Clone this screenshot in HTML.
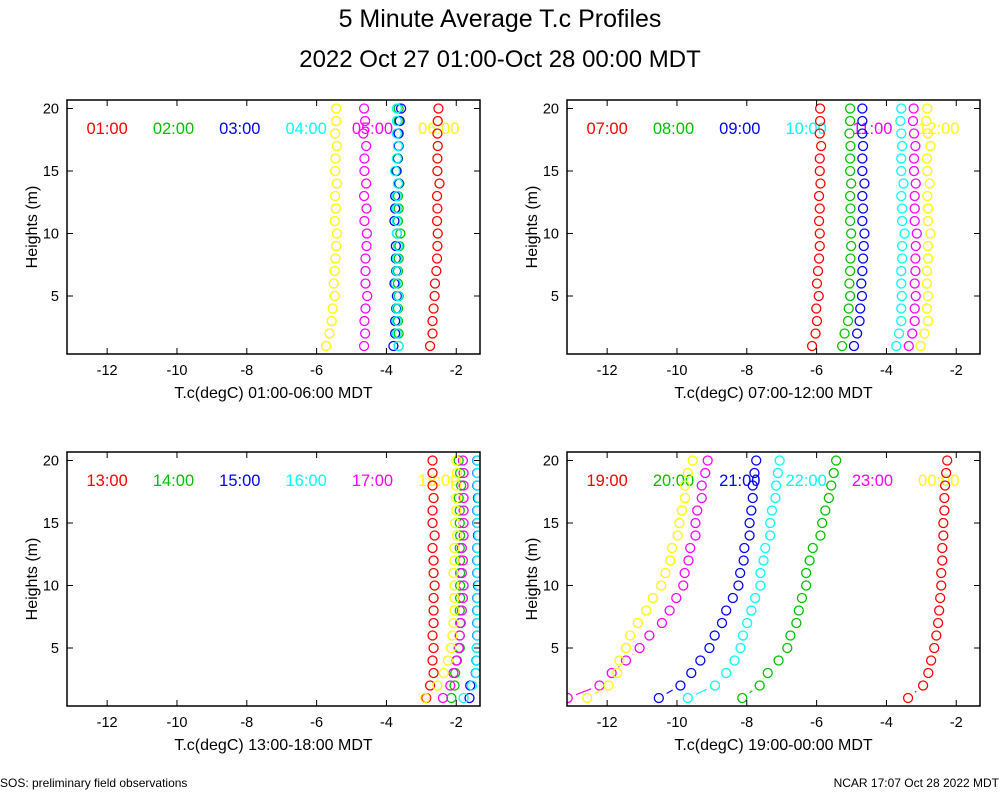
<!DOCTYPE html>
<html><head><meta charset="utf-8">
<style>
html,body{margin:0;padding:0;background:#fff;}
svg{display:block;font-family:"Liberation Sans",sans-serif;}
</style></head>
<body>
<svg id="chart" width="1000" height="800" viewBox="0 0 1000 800">
<text x="500" y="27" font-size="25" text-anchor="middle">5 Minute Average T.c Profiles</text>
<text x="500" y="67" font-size="24" text-anchor="middle">2022 Oct 27 01:00-Oct 28 00:00 MDT</text>
<text x="0" y="787" font-size="12">SOS: preliminary field observations</text>
<text x="999" y="787" font-size="12" text-anchor="end">NCAR 17:07 Oct 28 2022 MDT</text>
</svg>
<script>
const heights = [20,19,18,17,16,15,14,13,12,11,10,9,8,7,6,5,4,3,2,1];
const xTicks = [-12,-10,-8,-6,-4,-2];
const yTicks = [5,10,15,20];
const colors = ["#ff0000","#00c000","#0000ff","#00ffff","#ff00ff","#ffff00"];
const p1Labels = ["01:00","02:00","03:00","04:00","05:00","06:00"];
const p2Labels = ["07:00","08:00","09:00","10:00","11:00","12:00"];
const p3Labels = ["13:00","14:00","15:00","16:00","17:00","18:00"];
const p4Labels = ["19:00","20:00","21:00","22:00","23:00","00:00"];
const p1Red = [-2.51,-2.53,-2.54,-2.53,-2.54,-2.54,-2.48,-2.55,-2.54,-2.55,-2.53,-2.54,-2.55,-2.57,-2.61,-2.62,-2.65,-2.68,-2.68,-2.75];
const p1Green = [-3.65,-3.65,-3.67,-3.67,-3.67,-3.7,-3.63,-3.67,-3.65,-3.67,-3.6,-3.63,-3.65,-3.67,-3.67,-3.65,-3.67,-3.67,-3.65,-3.65];
const p1Blue = [-3.58,-3.62,-3.65,-3.65,-3.68,-3.72,-3.65,-3.75,-3.75,-3.77,-3.7,-3.73,-3.73,-3.72,-3.77,-3.7,-3.72,-3.75,-3.75,-3.8];
const p1Cyan = [-3.7,-3.7,-3.7,-3.67,-3.7,-3.75,-3.67,-3.7,-3.7,-3.7,-3.7,-3.67,-3.7,-3.7,-3.73,-3.67,-3.7,-3.7,-3.7,-3.65];
const p1Magenta = [-4.64,-4.61,-4.66,-4.58,-4.63,-4.63,-4.58,-4.64,-4.57,-4.63,-4.56,-4.57,-4.6,-4.6,-4.6,-4.55,-4.6,-4.63,-4.61,-4.64];
const p1Yellow = [-5.44,-5.44,-5.47,-5.42,-5.46,-5.47,-5.42,-5.47,-5.45,-5.48,-5.42,-5.44,-5.46,-5.48,-5.51,-5.48,-5.54,-5.57,-5.63,-5.73];
const p2Red = [-5.9,-5.9,-5.91,-5.87,-5.91,-5.91,-5.89,-5.93,-5.91,-5.93,-5.91,-5.91,-5.93,-5.96,-5.99,-5.94,-6.01,-5.99,-6.03,-6.13];
const p2Green = [-5.04,-5.04,-5.06,-5.03,-5.04,-5.04,-5.01,-5.04,-5.03,-5.04,-5.01,-5.01,-5.03,-5.04,-5.06,-5.04,-5.08,-5.1,-5.2,-5.27];
const p2Blue = [-4.69,-4.69,-4.69,-4.67,-4.69,-4.69,-4.63,-4.69,-4.67,-4.69,-4.63,-4.65,-4.67,-4.69,-4.72,-4.7,-4.75,-4.77,-4.84,-4.93];
const p2Cyan = [-3.575,-3.6,-3.575,-3.55,-3.575,-3.575,-3.51,-3.575,-3.55,-3.55,-3.48,-3.55,-3.55,-3.575,-3.575,-3.56,-3.575,-3.575,-3.64,-3.72];
const p2Magenta = [-3.22,-3.24,-3.21,-3.17,-3.21,-3.21,-3.16,-3.19,-3.19,-3.19,-3.13,-3.16,-3.17,-3.17,-3.19,-3.16,-3.19,-3.19,-3.26,-3.36];
const p2Yellow = [-2.83,-2.86,-2.81,-2.74,-2.84,-2.83,-2.76,-2.83,-2.81,-2.81,-2.74,-2.81,-2.81,-2.84,-2.84,-2.81,-2.84,-2.81,-2.91,-3.02];
const p3Red = [-2.68,-2.68,-2.68,-2.65,-2.68,-2.68,-2.62,-2.68,-2.65,-2.65,-2.62,-2.65,-2.65,-2.65,-2.68,-2.65,-2.68,-2.65,-2.75,-2.86];
const p3Green = [-1.93,-1.89,-1.86,-1.93,-1.9,-1.9,-1.89,-1.9,-1.89,-1.89,-1.89,-1.89,-1.9,-1.89,-1.9,-1.9,-1.98,-2.03,-2.05,-2.14];
const p3Blue = [-1.4,-1.4,-1.4,-1.38,-1.4,-1.4,-1.38,-1.4,-1.4,-1.4,-1.38,-1.4,-1.4,-1.4,-1.4,-1.41,-1.42,-1.44,-1.6,-1.62];
const p3Cyan = [-1.39,-1.39,-1.39,-1.36,-1.39,-1.39,-1.36,-1.39,-1.39,-1.39,-1.36,-1.39,-1.39,-1.39,-1.39,-1.41,-1.41,-1.43,-1.55,-1.79];
const p3Magenta = [-1.81,-1.79,-1.79,-1.79,-1.79,-1.79,-1.79,-1.84,-1.81,-1.84,-1.79,-1.81,-1.84,-1.87,-1.9,-1.93,-2.0,-2.08,-2.17,-2.38];
const p3Yellow = [-2.0,-1.98,-2.0,-2.0,-2.0,-2.03,-1.98,-2.05,-2.05,-2.08,-2.05,-2.05,-2.05,-2.08,-2.11,-2.15,-2.24,-2.36,-2.54,-2.89];
const p4Red = [-2.26,-2.29,-2.32,-2.34,-2.34,-2.37,-2.37,-2.4,-2.4,-2.43,-2.43,-2.46,-2.49,-2.52,-2.57,-2.63,-2.72,-2.8,-2.95,-3.38];
const p4Green = [-5.44,-5.51,-5.58,-5.65,-5.75,-5.84,-5.89,-6.11,-6.2,-6.3,-6.3,-6.42,-6.51,-6.58,-6.75,-6.84,-7.09,-7.4,-7.63,-8.13];
const p4Blue = [-7.73,-7.78,-7.83,-7.83,-7.87,-7.92,-7.92,-8.07,-8.09,-8.19,-8.24,-8.4,-8.59,-8.71,-8.92,-9.07,-9.33,-9.59,-9.9,-10.52];
const p4Cyan = [-7.06,-7.11,-7.16,-7.18,-7.28,-7.33,-7.33,-7.47,-7.52,-7.61,-7.61,-7.76,-7.87,-7.99,-8.11,-8.18,-8.35,-8.59,-8.91,-9.69];
const p4Magenta = [-9.12,-9.19,-9.29,-9.29,-9.42,-9.47,-9.47,-9.62,-9.67,-9.78,-9.82,-10.02,-10.21,-10.43,-10.79,-11.07,-11.46,-11.87,-12.22,-13.13];
const p4Yellow = [-9.55,-9.69,-9.77,-9.77,-9.86,-9.93,-9.98,-10.14,-10.19,-10.33,-10.45,-10.69,-10.88,-11.12,-11.34,-11.46,-11.65,-11.71,-11.96,-12.57];

const NS = "http://www.w3.org/2000/svg";
const svg = document.getElementById("chart");
function mk(tag, attrs, parent){ const e=document.createElementNS(NS,tag); for(const k in attrs) e.setAttribute(k,attrs[k]); (parent||svg).appendChild(e); return e; }

const panels = [
 {x0:67, y0:100, labels:p1Labels, series:[p1Red,p1Green,p1Blue,p1Cyan,p1Magenta,p1Yellow], title:"T.c(degC) 01:00-06:00 MDT"},
 {x0:567, y0:100, labels:p2Labels, series:[p2Red,p2Green,p2Blue,p2Cyan,p2Magenta,p2Yellow], title:"T.c(degC) 07:00-12:00 MDT"},
 {x0:67, y0:452, labels:p3Labels, series:[p3Red,p3Green,p3Blue,p3Cyan,p3Magenta,p3Yellow], title:"T.c(degC) 13:00-18:00 MDT"},
 {x0:567, y0:452, labels:p4Labels, series:[p4Red,p4Green,p4Blue,p4Cyan,p4Magenta,p4Yellow], title:"T.c(degC) 19:00-00:00 MDT"}
];
const W=413, H=254, XMIN=-13.15, XMAX=-1.32, YMIN=0.36, YMAX=20.68;

panels.forEach((p,pi)=>{
  const xs = v => p.x0 + (v-XMIN)/(XMAX-XMIN)*W;
  const ys = v => p.y0 + H - (v-YMIN)/(YMAX-YMIN)*H;
  const g = mk("g",{});
  
  
  const clip = mk("clipPath",{id:"clip"+pi}, g);
  mk("rect",{x:p.x0,y:p.y0,width:W,height:H},clip);
  p.labels.forEach((l,i)=>{
    const t = mk("text",{x:xs(-12+i*1.9), y:p.y0+34, "font-size":16.5, fill:colors[i], "text-anchor":"middle"}, g);
    t.textContent=l;
    
    
  });
  const pts = mk("g",{"clip-path":"url(#clip"+pi+")"}, g);
  p.series.forEach((arr,si)=>{
    const sg = mk("g",{}, pts);
    
    
    for(let i=0;i<arr.length-1;i++){
      const x1=xs(arr[i]), y1=ys(heights[i]), x2=xs(arr[i+1]), y2=ys(heights[i+1]);
      const d=Math.hypot(x2-x1,y2-y1), gap=9;
      if(d>2*gap){
        const ux=(x2-x1)/d, uy=(y2-y1)/d;
        const ln = mk("line",{x1:x1+ux*gap,y1:y1+uy*gap,x2:x2-ux*gap,y2:y2-uy*gap,stroke:colors[si],"stroke-width":1.2},sg);
        
        
      }
    }
    arr.forEach((v,i)=>{
      const c = mk("circle",{cx:xs(v), cy:ys(heights[i]), r:4.5, fill:"none", stroke:colors[si], "stroke-width":1.3}, sg);
      
      
    });
  });
  const fr = mk("rect",{x:p.x0,y:p.y0,width:W,height:H,fill:"none",stroke:"#000","stroke-width":1.5}, g);
  
  
  xTicks.forEach(t=>{
    const x=xs(t);
    mk("line",{x1:x,y1:p.y0+H,x2:x,y2:p.y0+H-6,stroke:"#000"},g);
    mk("line",{x1:x,y1:p.y0,x2:x,y2:p.y0+6,stroke:"#000"},g);
    const tx = mk("text",{x:x,y:p.y0+H+21,"font-size":14.5,"text-anchor":"middle"},g);
    tx.textContent=t;
    
    
  });
  yTicks.forEach(t=>{
    const y=ys(t);
    mk("line",{x1:p.x0,y1:y,x2:p.x0+6,y2:y,stroke:"#000"},g);
    mk("line",{x1:p.x0+W,y1:y,x2:p.x0+W-6,y2:y,stroke:"#000"},g);
    const ty = mk("text",{x:p.x0-8,y:y+5,"font-size":14.5,"text-anchor":"end"},g);
    ty.textContent=t;
    
    
  });
  const xt = mk("text",{x:p.x0+W/2,y:p.y0+H+44,"font-size":16,"text-anchor":"middle"},g);
  xt.textContent=p.title;
  
  
  const cy=p.y0+H/2;
  const yt = mk("text",{x:p.x0-30,y:cy,"font-size":16,"text-anchor":"middle",transform:"rotate(-90 "+(p.x0-30)+" "+cy+")"},g);
  yt.textContent="Heights (m)";
  
  
});
</script>
</body></html>
